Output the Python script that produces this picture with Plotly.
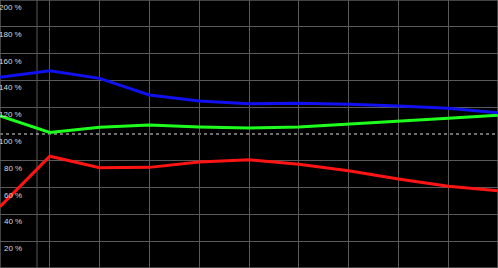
import plotly.graph_objects as go

x_vals = [0, 1, 2, 3, 4, 5, 6, 7, 8, 9, 10]
blue_vals = [142.3, 147.2, 141.5, 129.1, 124.6, 122.6, 122.9, 122.2, 120.9, 119.2, 115.9]
green_vals = [113.4, 101.2, 105.0, 106.7, 105.2, 104.5, 105.2, 107.2, 109.7, 111.7, 113.9]
red_vals = [45.7, 83.4, 74.9, 75.1, 79.1, 80.8, 77.4, 72.6, 66.4, 61.0, 57.7]
y_ticks = [20, 40, 60, 80, 100, 120, 140, 160, 180, 200]
y_labels = [f"{v} %" for v in y_ticks]
marker_x = 0.743
ref_level = 100

W, H = 498, 268
fig = go.Figure()
for vals, col in [(red_vals, "#ff1414"), (green_vals, "#1eff1e"), (blue_vals, "#1010f0")]:
    fig.add_trace(go.Scatter(x=x_vals, y=vals, mode="lines",
                             line=dict(color=col, width=3), hoverinfo="skip"))

grid = "#5a5a5a"
fig.add_shape(type="line", xref="x", yref="paper", x0=marker_x, x1=marker_x, y0=0, y1=1,
              line=dict(color=grid, width=1), layer="below")
fig.add_shape(type="line", xref="paper", yref="y", x0=0, x1=1, y0=ref_level, y1=ref_level,
              line=dict(color="#e0e0e0", width=1, dash="3px,3px"), layer="below")
fig.add_shape(type="rect", xref="paper", yref="paper", x0=0, x1=1, y0=0, y1=1,
              line=dict(color=grid, width=1.5), layer="below")

for v, lab in zip(y_ticks, y_labels):
    fig.add_annotation(xref="paper", yref="y", x=24 / W, y=v, text=lab, showarrow=False,
                       xanchor="right", yanchor="top", yshift=-1,
                       font=dict(family="Liberation Sans", size=8, color="#d8d8d8"))

fig.update_layout(
    width=W, height=H, margin=dict(l=0, r=0, t=0, b=0),
    paper_bgcolor="black", plot_bgcolor="black", showlegend=False,
    xaxis=dict(range=[0, 10], dtick=1, showgrid=True, gridcolor=grid, gridwidth=1,
               showticklabels=False, zeroline=False, fixedrange=True),
    yaxis=dict(range=[0, 200], tickvals=[v for v in y_ticks if v != ref_level], showgrid=True,
               gridcolor=grid, gridwidth=1, showticklabels=False, zeroline=False, fixedrange=True),
)
fig.write_html("out.html")
